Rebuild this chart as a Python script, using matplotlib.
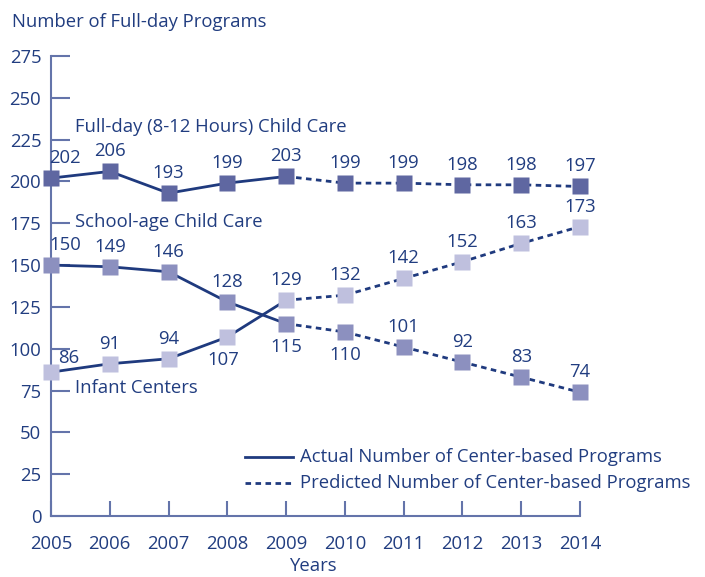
import matplotlib
matplotlib.use("Agg")
import matplotlib.pyplot as plt
from matplotlib.lines import Line2D

plt.rcParams['font.family'] = ['Open Sans', 'DejaVu Sans']

years = [2005, 2006, 2007, 2008, 2009, 2010, 2011, 2012, 2013, 2014]
full_day = [202, 206, 193, 199, 203, 199, 199, 198, 198, 197]
school_age = [150, 149, 146, 128, 115, 110, 101, 92, 83, 74]
infant = [86, 91, 94, 107, 129, 132, 142, 152, 163, 173]
actual_end = 2009
yticks = [0, 25, 50, 75, 100, 125, 150, 175, 200, 225, 250, 275]

NAVY = '#1f3a7e'
AXC = '#6474aa'
TXT = '#213d80'
c_full = '#5f67a1'
c_school = '#8c90bf'
c_inf = '#bfc0de'

fig = plt.figure(figsize=(7.05, 5.77), dpi=100)
ax = fig.add_axes([51/705, 1-516/577, (580-51)/705, (516-56)/577])

def draw(vals, color):
    k = years.index(actual_end)
    ax.plot(years[:k+1], vals[:k+1], color=NAVY, lw=2.0, solid_capstyle='butt', zorder=2, clip_on=False)
    ax.plot(years[k:], vals[k:], color=NAVY, lw=2.0, ls=(0, (2.0, 1.6)), zorder=2, clip_on=False)
    ax.plot(years, vals, ls='none', marker='s', ms=11.5, mfc=color, mec='none', zorder=3, clip_on=False)

draw(full_day, c_full)
draw(school_age, c_school)
draw(infant, c_inf)

fs = 13.3
def lab(x, y, s, dx, dy):
    ax.annotate(s, (x, y), xytext=(dx, dy), textcoords='offset points', ha='center',
                va='bottom' if dy > 0 else 'top', color=TXT, fontsize=fs, zorder=4)

offs_full = [(10, 8)] + [(0, 8)] * 9
offs_school = [(10, 8), (0, 8), (0, 8), (0, 8), (0, -10), (0, -10), (0, 8), (0, 8), (0, 8), (0, 8)]
offs_inf = [(13, 4), (0, 8), (0, 8), (-3, -10), (0, 8), (0, 8), (0, 8), (0, 8), (0, 8), (0, 8)]
for vals, offs in [(full_day, offs_full), (school_age, offs_school), (infant, offs_inf)]:
    for x, v, o in zip(years, vals, offs):
        lab(x, v, str(v), *o)

# series names
for txt, py in [('Full-day (8-12 Hours) Child Care', 127), ('School-age Child Care', 222), ('Infant Centers', 388)]:
    fig.text(75/705, 1-py/577, txt, fontsize=fs, color=TXT, va='center', ha='left')

ax.set_xlim(2005, 2014)
ax.set_ylim(0, 275)
ax.set_xticks(years)
ax.set_yticks(yticks)
for s in ['top', 'right']:
    ax.spines[s].set_visible(False)
for s in ['left', 'bottom']:
    ax.spines[s].set_color(AXC)
    ax.spines[s].set_linewidth(1.5)
ax.tick_params(axis='y', direction='in', length=14, width=1.5, color=AXC, labelcolor=TXT, labelsize=fs, pad=7)
ax.tick_params(axis='x', direction='in', length=11, width=1.5, color=AXC, labelcolor=TXT, labelsize=fs, pad=14)

fig.text(12/705, 1-22/577, 'Number of Full-day Programs', fontsize=fs, color=TXT, va='center', ha='left')
fig.text(313/705, 1-566/577, 'Years', fontsize=fs, color=TXT, va='center', ha='center')

# legend
for py, ls, txt in [(457, '-', 'Actual Number of Center-based Programs'),
                    (483, (0, (2.0, 1.6)), 'Predicted Number of Center-based Programs')]:
    fig.add_artist(Line2D([245/705, 293/705], [1-py/577, 1-py/577], color=NAVY, lw=2.0, ls=ls))
    fig.text(300/705, 1-py/577, txt, fontsize=fs, color=TXT, va='center', ha='left')

fig.savefig('out.png', dpi=100)
